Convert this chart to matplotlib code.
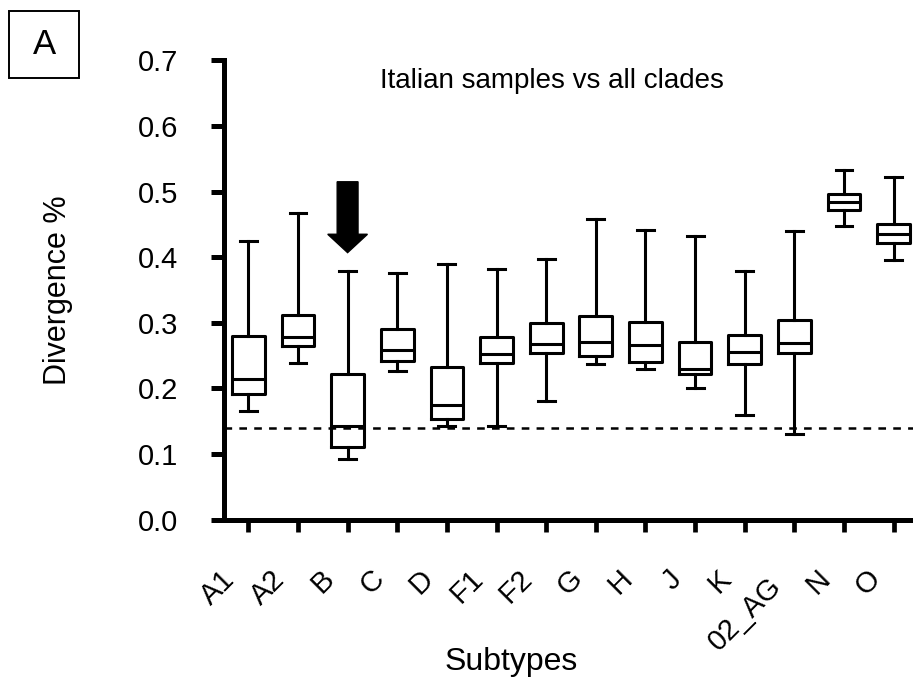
import matplotlib
matplotlib.use("Agg")
import matplotlib.pyplot as plt
import matplotlib.transforms as mtransforms
from matplotlib.patches import Rectangle

plt.rcParams['font.family'] = ['Liberation Sans', 'DejaVu Sans']
plt.rcParams['lines.scale_dashes'] = False

# box statistics (divergence)
subtypes = ["A1", "A2", "B", "C", "D", "F1", "F2", "G", "H", "J", "K", "02_AG", "N", "O"]
whisker_low = [0.165, 0.238, 0.092, 0.226, 0.142, 0.143, 0.181, 0.237, 0.230, 0.200, 0.160, 0.130, 0.447, 0.396]
q1 = [0.191, 0.265, 0.111, 0.242, 0.153, 0.238, 0.254, 0.249, 0.241, 0.222, 0.237, 0.254, 0.472, 0.421]
median = [0.214, 0.278, 0.142, 0.258, 0.175, 0.252, 0.268, 0.270, 0.266, 0.230, 0.255, 0.269, 0.484, 0.436]
q3 = [0.280, 0.312, 0.222, 0.291, 0.232, 0.278, 0.299, 0.310, 0.301, 0.271, 0.281, 0.305, 0.496, 0.450]
whisker_high = [0.425, 0.468, 0.379, 0.376, 0.389, 0.382, 0.398, 0.459, 0.442, 0.432, 0.379, 0.440, 0.533, 0.523]
yticks = [0.0, 0.1, 0.2, 0.3, 0.4, 0.5, 0.6, 0.7]
threshold = 0.14

# arrow pointing at subtype B
arrow_x = 2
arrow_top = 0.515
arrow_tip = 0.407

LW = 2.2

fig = plt.figure(figsize=(9.13, 6.78), dpi=100)
ax = fig.add_axes([0.2448, 0.2336, 0.7552, 0.6773])

stats = []
for i in range(len(subtypes)):
    stats.append(dict(whislo=whisker_low[i], q1=q1[i], med=median[i], q3=q3[i],
                      whishi=whisker_high[i], fliers=[], label=subtypes[i]))

ax.bxp(stats, positions=range(len(subtypes)), widths=0.66, capwidths=0.34,
       showfliers=False,
       boxprops=dict(color='black', linewidth=LW),
       whiskerprops=dict(color='black', linewidth=LW),
       capprops=dict(color='black', linewidth=LW),
       medianprops=dict(color='black', linewidth=LW))

ax.axhline(threshold, color='black', linewidth=1.8, dashes=(5.5, 5.2), zorder=1)

ax.arrow(arrow_x, arrow_top, 0, arrow_tip - arrow_top, width=0.42, head_width=0.8,
         head_length=0.028, length_includes_head=True, color='black', zorder=5)

ax.set_xlim(-0.5, 13.39)
ax.set_ylim(0, 0.7)
ax.set_yticks(yticks)
ax.set_yticklabels(["%.1f" % v for v in yticks])

for s in ['top', 'right']:
    ax.spines[s].set_visible(False)
for s in ['left', 'bottom']:
    ax.spines[s].set_linewidth(3.6)

ax.tick_params(axis='y', direction='out', length=9.4, width=3.6, labelsize=21, pad=23)
ax.tick_params(axis='x', direction='out', length=8.6, width=3.4, labelsize=21, pad=24)

ax.set_xticks(range(len(subtypes)))
ax.set_xticklabels(subtypes)
for lab in ax.get_xticklabels():
    lab.set_rotation(45)
    lab.set_ha('right')
    lab.set_va('top')
    dx, dy = -8, 0
    if lab.get_text() == "02_AG":
        dx, dy = -7, -7
    lab.set_transform(lab.get_transform() +
                      mtransforms.ScaledTranslation(dx / 100, dy / 100, fig.dpi_scale_trans))

ax.set_ylabel("Divergence %", fontsize=22, va='center')
ax.yaxis.set_label_coords(-0.24, 0.5)
ax.set_xlabel("Subtypes", fontsize=23, va='baseline')
ax.xaxis.set_label_coords(0.4165, -0.3275)

fig.text(552 / 913, 1 - 88 / 678, "Italian samples vs all clades", fontsize=20,
         ha='center', va='baseline')

# panel letter
fig.patches.append(Rectangle((9 / 913, 1 - 78 / 678), 70 / 913, 67 / 678,
                             transform=fig.transFigure, fill=False,
                             edgecolor='black', linewidth=1.4))
fig.text(44 / 913, 1 - 45 / 678, "A", fontsize=25, ha='center', va='center')

fig.savefig("out.png", dpi=100)
